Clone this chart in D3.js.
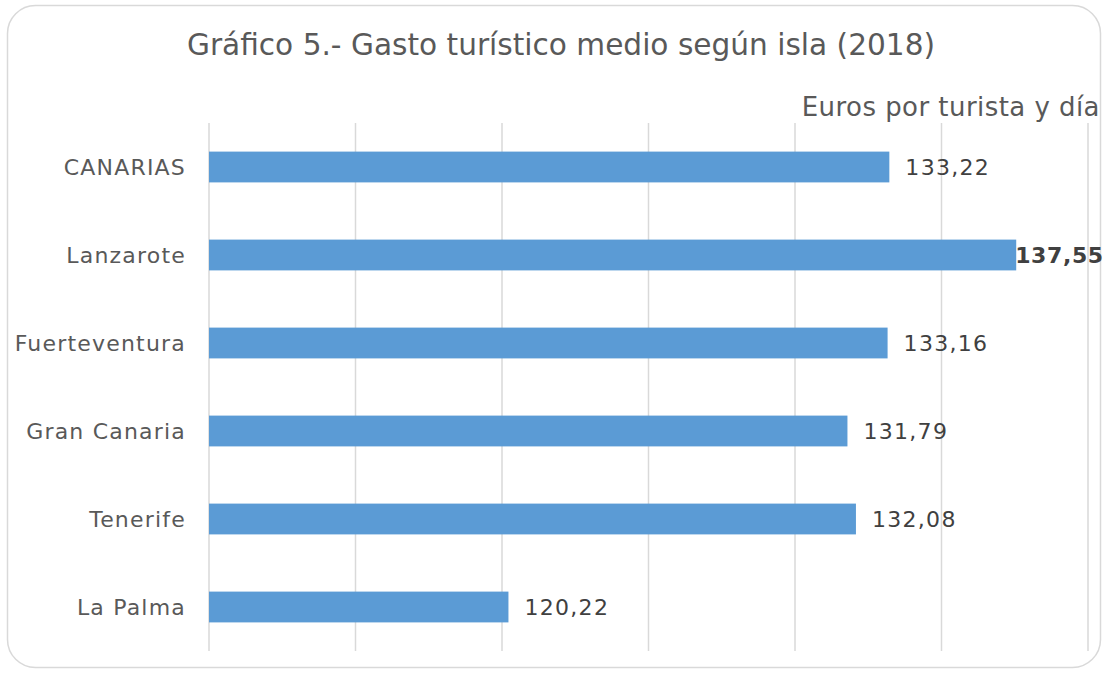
<!DOCTYPE html>
<html>
<head>
<meta charset="utf-8">
<script src="https://cdn.jsdelivr.net/npm/d3@7"></script>
<style>
  body { margin: 0; background: #fff; }
  text { font-family: "DejaVu Sans", Verdana, sans-serif; }
</style>
</head>
<body>
<svg width="1105" height="673"></svg>
<script>
// chart data
var islands = ["CANARIAS", "Lanzarote", "Fuerteventura", "Gran Canaria", "Tenerife", "La Palma"];
var gasto = [133.22, 137.55, 133.16, 131.79, 132.08, 120.22];
var xTicks = [110, 115, 120, 125, 130, 135, 140];

var svg = d3.select("svg"),
  width = +svg.attr("width"),
  height = +svg.attr("height");

// frame
svg.append("rect")
  .attr("x", 7.5).attr("y", 5.5)
  .attr("width", 1093).attr("height", 662)
  .attr("rx", 28).attr("ry", 28)
  .attr("fill", "#fff")
  .attr("stroke", "#d9d9d9")
  .attr("stroke-width", 1.5);

var margin = {left: 209, right: 17, top: 123, bottom: 22};

var x = d3.scaleLinear()
  .domain([110, 140])
  .range([margin.left, width - margin.right]);

var y = d3.scaleBand()
  .domain(islands)
  .range([margin.top, height - margin.bottom])
  .paddingInner(0.65)
  .paddingOuter(0.325);

// gridlines
svg.append("g")
  .selectAll("line")
  .data(xTicks)
  .enter().append("line")
  .attr("x1", function(d) { return x(d); })
  .attr("x2", function(d) { return x(d); })
  .attr("y1", margin.top)
  .attr("y2", height - margin.bottom)
  .attr("stroke", "#d9d9d9")
  .attr("stroke-width", 1.5);

var rows = islands.map(function(d, i) { return {name: d, value: gasto[i]}; });

// bars
svg.append("g")
  .selectAll("rect")
  .data(rows)
  .enter().append("rect")
  .attr("x", x(110))
  .attr("y", function(d) { return y(d.name); })
  .attr("width", function(d) { return x(d.value) - x(110); })
  .attr("height", y.bandwidth())
  .attr("fill", "#5b9bd5");

// category labels
svg.append("g")
  .selectAll("text")
  .data(rows)
  .enter().append("text")
  .attr("x", 186)
  .attr("y", function(d) { return y(d.name) + y.bandwidth() / 2; })
  .attr("dy", "0.36em")
  .attr("text-anchor", "end")
  .attr("font-size", 22)
  .attr("letter-spacing", 1.2)
  .attr("fill", "#595959")
  .text(function(d) { return d.name; });

// value labels
var fmt = function(v) { return v.toFixed(2).replace(".", ","); };
var maxVal = d3.max(gasto);
svg.append("g")
  .selectAll("text")
  .data(rows)
  .enter().append("text")
  .attr("x", function(d) { return d.value === maxVal ? x(d.value) - 1 : x(d.value) + 16; })
  .attr("y", function(d) { return y(d.name) + y.bandwidth() / 2; })
  .attr("dy", "0.36em")
  .attr("font-size", 22)
  .attr("letter-spacing", function(d) { return d.value === maxVal ? 0.6 : 1.3; })
  .attr("font-weight", function(d) { return d.value === maxVal ? "bold" : "normal"; })
  .attr("fill", "#404040")
  .text(function(d) { return fmt(d.value); });

// title
svg.append("text")
  .attr("x", 561).attr("y", 55)
  .attr("text-anchor", "middle")
  .attr("font-size", 29.6)
  .attr("fill", "#595959")
  .text("Gráfico 5.- Gasto turístico medio según isla (2018)");

svg.append("text")
  .attr("x", 1100).attr("y", 116)
  .attr("text-anchor", "end")
  .attr("font-size", 26)
  .attr("letter-spacing", 0.45)
  .attr("fill", "#595959")
  .text("Euros por turista y día");
</script>
</body>
</html>
